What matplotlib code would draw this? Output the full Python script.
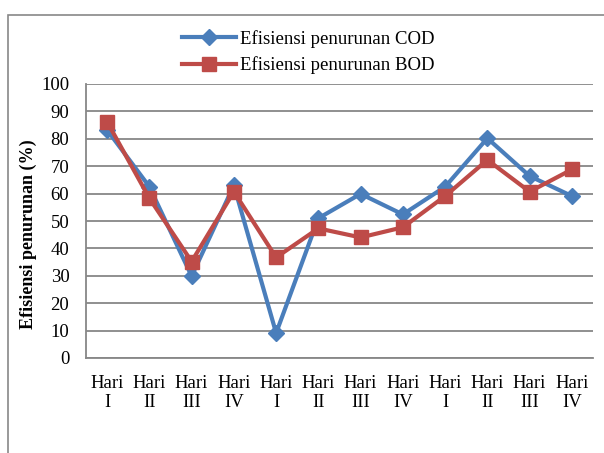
import matplotlib
matplotlib.use("Agg")
import matplotlib.pyplot as plt
from matplotlib.patches import Rectangle

categories = ["Hari\nI", "Hari\nII", "Hari\nIII", "Hari\nIV",
              "Hari\nI", "Hari\nII", "Hari\nIII", "Hari\nIV",
              "Hari\nI", "Hari\nII", "Hari\nIII", "Hari\nIV"]
cod = [83.2, 62.5, 29.9, 63.0, 9.1, 51.0, 59.9, 52.4, 62.5, 80.2, 66.4, 59.1]
bod = [86.2, 58.3, 35.2, 60.7, 36.7, 47.3, 44.0, 47.7, 59.1, 72.3, 60.7, 68.8]
yticks = list(range(0, 101, 10))

plt.rcParams['font.family'] = ['Liberation Serif', 'DejaVu Serif']
FS = 13.5

fig = plt.figure(figsize=(6.04, 4.53), dpi=100)
fig.patches.append(Rectangle((8/604, -0.1), 1.2, (453-15)/453 + 0.1,
                             transform=fig.transFigure, fill=False,
                             edgecolor='#888888', linewidth=1.2))
ax = fig.add_axes([86/604, (453-358)/453, (593-86)/604, (358-84)/453])

x = list(range(len(categories)))
blue = '#4A7EBB'
red = '#BE4B48'
l1, = ax.plot(x, cod, color=blue, lw=3.0, marker='D', markersize=8.5, zorder=3,
              label='Efisiensi penurunan COD')
l2, = ax.plot(x, bod, color=red, lw=3.0, marker='s', markersize=10, zorder=4,
              label='Efisiensi penurunan BOD')

ax.set_xlim(-0.5, len(categories) - 0.5)
ax.set_ylim(0, 100)
ax.set_yticks(yticks)
ax.set_xticks(x)
ax.set_xticklabels(categories, fontsize=FS, linespacing=1.2)
ax.tick_params(axis='y', labelsize=FS, length=0, pad=12)
ax.tick_params(axis='x', length=0, pad=12)
ax.yaxis.grid(True, color='#878787', linewidth=1.3)
ax.set_axisbelow(True)
for s in ['top', 'right']:
    ax.spines[s].set_visible(False)
for s in ['left', 'bottom']:
    ax.spines[s].set_color('#878787')
    ax.spines[s].set_linewidth(1.3)

ax.set_ylabel('Efisiensi penurunan (%)', fontsize=13, fontweight='bold')
ax.yaxis.set_label_coords((36.7 - 86) / 507, (358 - 234.5) / 274)

fig.legend(handles=[l1, l2], loc='upper left', bbox_to_anchor=(182/604, 1 - 30/453),
           frameon=False, fontsize=FS, handlelength=2.9, handletextpad=0.2,
           labelspacing=0.45, borderaxespad=0, borderpad=0)

fig.savefig('out.png', dpi=100)
